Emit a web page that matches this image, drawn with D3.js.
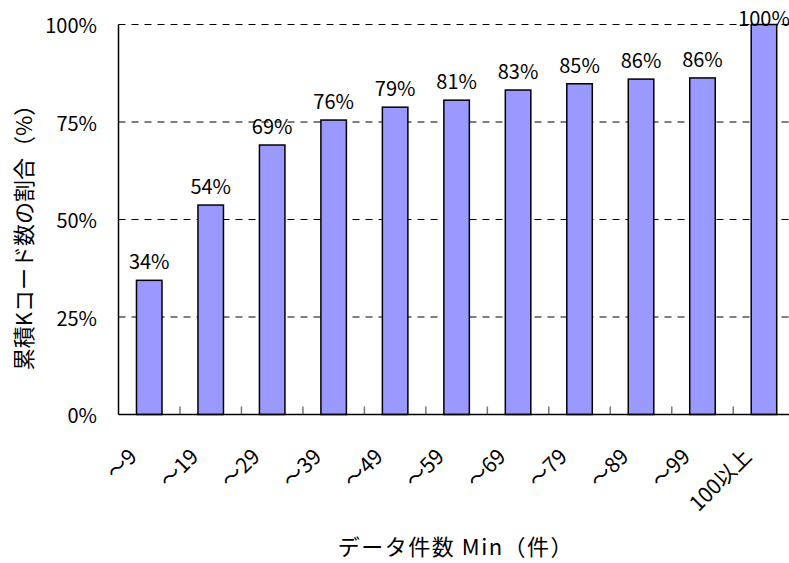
<!DOCTYPE html>
<html>
<head>
<meta charset="utf-8">
<script src="https://cdn.jsdelivr.net/npm/d3@7"></script>
<style>
  html, body { margin: 0; padding: 0; background: #fff; }
  text { font-family: "Noto Sans CJK JP", "Noto Sans", sans-serif; fill: #000; }
</style>
</head>
<body>
<svg id="chart" width="789" height="563"></svg>
<script>
const categories = ["〜9", "〜19", "〜29", "〜39", "〜49", "〜59", "〜69", "〜79", "〜89", "〜99", "100以上"];
const values = [34.4, 53.7, 69.1, 75.5, 78.8, 80.6, 83.2, 84.8, 86.0, 86.3, 100];
const valueLabels = ["34%", "54%", "69%", "76%", "79%", "81%", "83%", "85%", "86%", "86%", "100%"];
const yTicks = [0, 25, 50, 75, 100];
const yTickLabels = ["0%", "25%", "50%", "75%", "100%"];
const xTitle = "データ件数 Min（件）";
const yTitle = "累積Kコード数の割合（%）";

const svg = d3.select("#chart");
const pLeft = 118.5, pRight = 794.7, pTop = 24.5, pBottom = 414.5;

const xCat = d3.scaleBand().domain(categories).range([pLeft, pRight]).padding(0);
const xBar = d3.scaleBand().domain(categories).range([pLeft, pRight])
  .paddingInner(0.585).paddingOuter(0.2925);
const y = d3.scaleLinear().domain([0, 100]).range([pBottom, pTop]);

// gridlines
svg.append("g").selectAll("line").data(yTicks.filter(d => d > 0)).join("line")
  .attr("x1", pLeft).attr("x2", pRight)
  .attr("y1", d => y(d)).attr("y2", d => y(d))
  .attr("stroke", "#000").attr("stroke-width", 1)
  .attr("stroke-dasharray", "7,6");

// y tick labels
svg.append("g").selectAll("text").data(yTicks).join("text")
  .attr("x", 97).attr("y", d => y(d))
  .attr("text-anchor", "end").attr("dominant-baseline", "central")
  .attr("font-size", 20)
  .text((d, i) => yTickLabels[i]);

// bars
svg.append("g").selectAll("rect").data(values).join("rect")
  .attr("x", (d, i) => xBar(categories[i]))
  .attr("width", xBar.bandwidth())
  .attr("y", d => y(d))
  .attr("height", d => y(0) - y(d))
  .attr("fill", "#9999FF")
  .attr("stroke", "#000").attr("stroke-width", 1.5);

// inner tick marks at category boundaries
svg.append("g").selectAll("line").data(categories.slice(1)).join("line")
  .attr("x1", d => xCat(d)).attr("x2", d => xCat(d))
  .attr("y1", pBottom).attr("y2", pBottom - 8)
  .attr("stroke", "#777").attr("stroke-width", 1.5);

// axes lines
svg.append("line").attr("x1", pLeft).attr("x2", pLeft).attr("y1", pTop).attr("y2", pBottom)
  .attr("stroke", "#000").attr("stroke-width", 1.5);
svg.append("line").attr("x1", pLeft).attr("x2", pRight).attr("y1", pBottom).attr("y2", pBottom)
  .attr("stroke", "#000").attr("stroke-width", 1.5);

// value labels
svg.append("g").selectAll("text").data(values).join("text")
  .attr("x", (d, i) => xCat(categories[i]) + xCat.bandwidth() / 2)
  .attr("y", d => Math.max(y(d) - 11, pTop + 1))
  .attr("text-anchor", "middle")
  .attr("font-size", 20)
  .text((d, i) => valueLabels[i]);

// x category labels (rotated)
svg.append("g").selectAll("text").data(categories).join("text")
  .attr("transform", d => `translate(${xCat(d) + xCat.bandwidth() / 2 - 11},458) rotate(-45)`)
  .attr("text-anchor", "end")
  .attr("font-size", 21)
  .text(d => d);

// axis titles
svg.append("text").attr("x", 456).attr("y", 555)
  .attr("text-anchor", "middle").attr("font-size", 22)
  .attr("letter-spacing", 1.5)
  .text(xTitle);
svg.append("text")
  .attr("transform", "translate(22,232) rotate(-90)")
  .attr("text-anchor", "middle").attr("dominant-baseline", "central")
  .attr("font-size", 22)
  .text(yTitle);
</script>
</body>
</html>
